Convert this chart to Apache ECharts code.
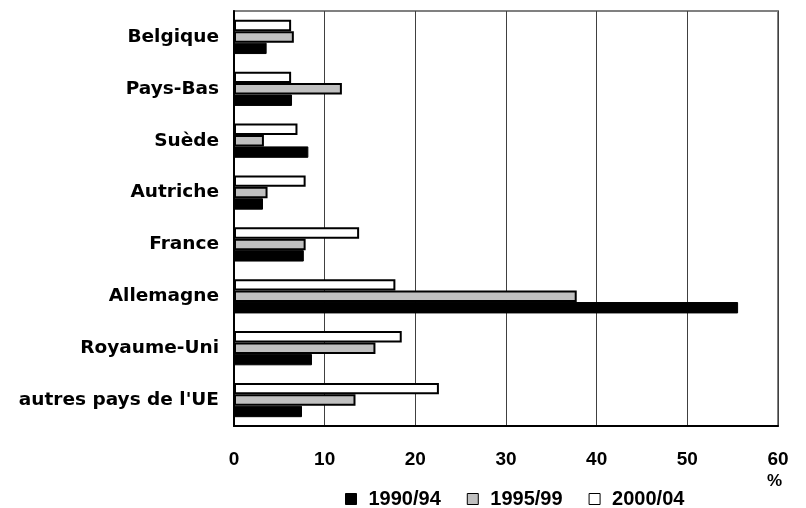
<!DOCTYPE html>
<html>
<head>
<meta charset="utf-8">
<script src="https://cdn.jsdelivr.net/npm/echarts@6/dist/echarts.min.js"></script>
<style>
  html, body { margin: 0; padding: 0; background: #fff; }
  #chart { width: 806px; height: 508px; }
</style>
</head>
<body>
<div id="chart"></div>
<script>
const countries = ['Belgique', 'Pays-Bas', 'Suède', 'Autriche', 'France', 'Allemagne', 'Royaume-Uni', "autres pays de l'UE"]
const periods = ['1990/94', '1995/99', '2000/04']
const v1990 = [3.6, 6.4, 8.2, 3.2, 7.7, 55.6, 8.6, 7.5]
const v1995 = [6.6, 11.9, 3.3, 3.7, 7.9, 37.8, 15.6, 13.4]
const v2000 = [6.3, 6.3, 7.0, 7.9, 13.8, 17.8, 18.5, 22.6]
const xTicks = [0, 10, 20, 30, 40, 50, 60]

const colors = ['#000000', '#c0c0c0', '#ffffff']
const font = 'Liberation Sans, Arial, sans-serif'

const myChart = echarts.init(document.getElementById('chart'))

// category axis is inverted, so the series listed first sits on top of each group
const seriesData = [v1990, v1995, v2000]
const bars = [2, 1, 0].map((i) => ({
  name: periods[i],
  type: 'bar',
  data: seriesData[i],
  barCategoryGap: '34%',
  barGap: '0%',
  itemStyle: { color: colors[i], borderColor: '#000', borderWidth: i === 0 ? 1 : 2 },
}))

myChart.setOption({
  animation: false,
  textStyle: { fontFamily: font },
  legend: {
    top: 484,
    left: 340,
    itemWidth: 11,
    itemHeight: 11,
    itemGap: 26,
    icon: 'rect',
    textStyle: { fontFamily: font, fontWeight: 'bold', fontSize: 20, color: '#000', padding: [0, 0, 0, 7] },
    data: periods.map((p, i) => ({
      name: p,
      itemStyle: { color: colors[i], borderColor: '#000', borderWidth: 1 },
    })),
  },
  graphic: [
    {
      type: 'text',
      left: 767,
      top: 473,
      style: { text: '%', font: 'bold 17px ' + font, fill: '#000' },
    },
  ],
  grid: {
    left: 234,
    right: 28,
    top: 11,
    bottom: 82,
    show: true,
    borderColor: '#808080',
    borderWidth: 2,
  },
  xAxis: {
    type: 'value',
    min: 0,
    max: 60,
    interval: 10,
    axisLine: { show: true, lineStyle: { color: '#000', width: 2 } },
    axisTick: { show: false },
    splitLine: { show: true, lineStyle: { color: '#404040', width: 1 } },
    axisLabel: {
      margin: 24,
      fontSize: 19,
      fontWeight: 'bold',
      color: '#000',
      formatter: (v) => (xTicks.includes(v) ? String(v) : ''),
    },
  },
  yAxis: {
    type: 'category',
    inverse: true,
    data: countries,
    axisLine: { show: true, lineStyle: { color: '#000', width: 2 } },
    axisTick: { show: false },
    axisLabel: {
      margin: 15,
      fontFamily: 'DejaVu Sans',
      fontSize: 18.5,
      fontWeight: 'bold',
      color: '#000',
    },
  },
  series: bars,
})
</script>
</body>
</html>
